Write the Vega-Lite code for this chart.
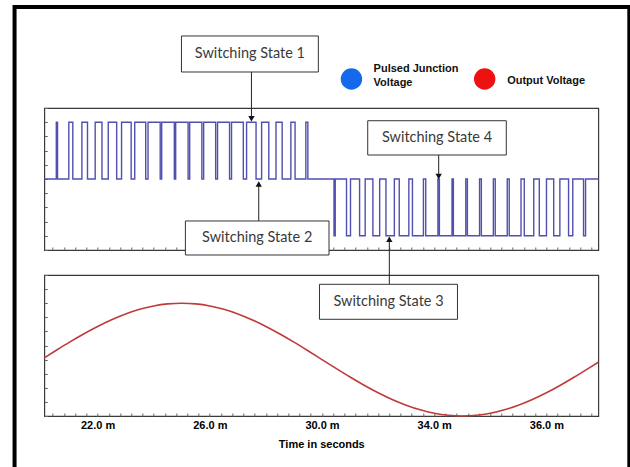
{
  "$schema": "https://vega.github.io/schema/vega-lite/v6.json",
  "autosize": {"type": "pad"},
  "padding": {"left": 11.3, "top": 4, "right": 0, "bottom": 0},
  "background": "white",
  "bounds": "flush",
  "spacing": 25,
  "config": {
    "view": {"stroke": "#3a3a3a", "strokeWidth": 1.2},
    "axis": {"grid": false, "domain": false, "tickColor": "#666", "tickWidth": 1}
  },
  "datasets": {
    "pulses": [
      {"t": 20.1, "v": 0},
      {"t": 20.528, "v": 1}, {"t": 20.572, "v": 0},
      {"t": 20.974, "v": 1}, {"t": 21.116, "v": 0},
      {"t": 21.44, "v": 1}, {"t": 21.64, "v": 0},
      {"t": 21.914, "v": 1}, {"t": 22.156, "v": 0},
      {"t": 22.38, "v": 1}, {"t": 22.68, "v": 0},
      {"t": 22.854, "v": 1}, {"t": 23.196, "v": 0},
      {"t": 23.324, "v": 1}, {"t": 23.716, "v": 0},
      {"t": 23.798, "v": 1}, {"t": 24.232, "v": 0},
      {"t": 24.285, "v": 1}, {"t": 24.735, "v": 0},
      {"t": 24.784, "v": 1}, {"t": 25.226, "v": 0},
      {"t": 25.283, "v": 1}, {"t": 25.717, "v": 0},
      {"t": 25.781, "v": 1}, {"t": 26.209, "v": 0},
      {"t": 26.276, "v": 1}, {"t": 26.704, "v": 0},
      {"t": 26.775, "v": 1}, {"t": 27.195, "v": 0},
      {"t": 27.311, "v": 1}, {"t": 27.649, "v": 0},
      {"t": 27.847, "v": 1}, {"t": 28.103, "v": 0},
      {"t": 28.36, "v": 1}, {"t": 28.58, "v": 0},
      {"t": 28.89, "v": 1}, {"t": 29.04, "v": 0},
      {"t": 29.424, "v": 1}, {"t": 29.496, "v": 0},
      {"t": 30.428, "v": -1}, {"t": 30.472, "v": 0},
      {"t": 30.874, "v": -1}, {"t": 31.016, "v": 0},
      {"t": 31.34, "v": -1}, {"t": 31.54, "v": 0},
      {"t": 31.814, "v": -1}, {"t": 32.056, "v": 0},
      {"t": 32.28, "v": -1}, {"t": 32.58, "v": 0},
      {"t": 32.754, "v": -1}, {"t": 33.096, "v": 0},
      {"t": 33.224, "v": -1}, {"t": 33.616, "v": 0},
      {"t": 33.698, "v": -1}, {"t": 34.132, "v": 0},
      {"t": 34.185, "v": -1}, {"t": 34.635, "v": 0},
      {"t": 34.684, "v": -1}, {"t": 35.126, "v": 0},
      {"t": 35.183, "v": -1}, {"t": 35.617, "v": 0},
      {"t": 35.681, "v": -1}, {"t": 36.109, "v": 0},
      {"t": 36.176, "v": -1}, {"t": 36.604, "v": 0},
      {"t": 36.675, "v": -1}, {"t": 37.095, "v": 0},
      {"t": 37.211, "v": -1}, {"t": 37.549, "v": 0},
      {"t": 37.747, "v": -1}, {"t": 38.003, "v": 0},
      {"t": 38.26, "v": -1}, {"t": 38.48, "v": 0},
      {"t": 38.79, "v": -1}, {"t": 38.94, "v": 0},
      {"t": 39.324, "v": -1}, {"t": 39.396, "v": 0},
      {"t": 39.85, "v": 0}
    ],
    "sine": [
      {"t": 20.1, "v": 0.0314}, {"t": 20.5, "v": 0.1564}, {"t": 21, "v": 0.309}, {"t": 21.5, "v": 0.454},
      {"t": 22, "v": 0.5878}, {"t": 22.5, "v": 0.7071}, {"t": 23, "v": 0.809}, {"t": 23.5, "v": 0.891},
      {"t": 24, "v": 0.9511}, {"t": 24.5, "v": 0.9877}, {"t": 25, "v": 1}, {"t": 25.5, "v": 0.9877},
      {"t": 26, "v": 0.9511}, {"t": 26.5, "v": 0.891}, {"t": 27, "v": 0.809}, {"t": 27.5, "v": 0.7071},
      {"t": 28, "v": 0.5878}, {"t": 28.5, "v": 0.454}, {"t": 29, "v": 0.309}, {"t": 29.5, "v": 0.1564},
      {"t": 30, "v": 0}, {"t": 30.5, "v": -0.1564}, {"t": 31, "v": -0.309}, {"t": 31.5, "v": -0.454},
      {"t": 32, "v": -0.5878}, {"t": 32.5, "v": -0.7071}, {"t": 33, "v": -0.809}, {"t": 33.5, "v": -0.891},
      {"t": 34, "v": -0.9511}, {"t": 34.5, "v": -0.9877}, {"t": 35, "v": -1}, {"t": 35.5, "v": -0.9877},
      {"t": 36, "v": -0.9511}, {"t": 36.5, "v": -0.891}, {"t": 37, "v": -0.809}, {"t": 37.5, "v": -0.7071},
      {"t": 38, "v": -0.5878}, {"t": 38.5, "v": -0.454}, {"t": 39, "v": -0.309}, {"t": 39.5, "v": -0.1564},
      {"t": 39.85, "v": -0.0471}
    ],
    "frame": [{"t": 19.04, "t2": 40.956, "v": 3.028, "v2": -5.3}],
    "boxesTop": [
      {"t": 24.99, "t2": 29.87, "v": 2.518, "v2": 1.884},
      {"t": 25.13, "t2": 30.25, "v": -0.739, "v2": -1.338},
      {"t": 31.63, "t2": 36.57, "v": 1.026, "v2": 0.4225}
    ],
    "labelsTop": [
      {"label": "Switching State 1", "t": 27.43, "v": 2.201},
      {"label": "Switching State 2", "t": 27.69, "v": -1.038},
      {"label": "Switching State 4", "t": 34.1, "v": 0.724}
    ],
    "arrowsTop": [
      {"t": 27.485, "v": 1.884, "v2": 1.1},
      {"t": 27.745, "v": -0.739, "v2": -0.12},
      {"t": 34.16, "v": 0.4225, "v2": 0.07}
    ],
    "headsDownTop": [{"t": 27.485, "v": 1.06}, {"t": 34.16, "v": 0.045}],
    "headsUpTop": [{"t": 27.745, "v": -0.09}],
    "legendBlue": [{"t": 31.05, "v": 1.76}],
    "legendRed": [{"t": 35.8, "v": 1.76}],
    "legendText": [
      {"label": "Pulsed Junction", "t": 31.84, "v": 1.93},
      {"label": "Voltage", "t": 31.84, "v": 1.685},
      {"label": "Output Voltage", "t": 36.6, "v": 1.725}
    ],
    "boxBottom": [{"t": 29.91, "t2": 34.83, "v": 1.335, "v2": 0.7145}],
    "labelBottom": [{"label": "Switching State 3", "t": 32.37, "v": 1.025}],
    "arrowBottom": [{"t": 32.4, "v": 1.335, "v2": 2.1}],
    "headUpBottom": [{"t": 32.4, "v": 2.135}]
  },
  "vconcat": [
    {
      "width": 554,
      "height": 142,
      "encoding": {
        "x": {
          "field": "t", "type": "quantitative",
          "scale": {"domain": [20.1, 39.85], "nice": false, "zero": false},
          "axis": {
            "title": null, "labels": false, "tickSize": -3,
            "values": [20.4, 20.8, 21.2, 21.6, 22, 22.4, 22.8, 23.2, 23.6, 24, 24.4, 24.8, 25.2, 25.6, 26, 26.4, 26.8, 27.2, 27.6, 28, 28.4, 28.8, 29.2, 29.6, 30, 30.4, 30.8, 31.2, 31.6, 32, 32.4, 32.8, 33.2, 33.6, 34, 34.4, 34.8, 35.2, 35.6, 36, 36.4, 36.8, 37.2, 37.6, 38, 38.4, 38.8, 39.2, 39.6]
          }
        },
        "y": {
          "field": "v", "type": "quantitative",
          "scale": {"domain": [-1.25, 1.25], "nice": false, "zero": false},
          "axis": {
            "title": null, "labels": false, "tickSize": -3,
            "values": [-1.25, -1, -0.75, -0.5, -0.25, 0, 0.25, 0.5, 0.75, 1, 1.25]
          }
        }
      },
      "layer": [
        {
          "data": {"name": "frame"},
          "mark": {"type": "rect", "fill": null, "fillOpacity": 0, "stroke": "#000", "strokeWidth": 4},
          "encoding": {"x2": {"field": "t2"}, "y2": {"field": "v2"}}
        },
        {
          "data": {"name": "pulses"},
          "mark": {"type": "line", "interpolate": "step-after", "color": "#5050b0", "strokeWidth": 1.4},
          "encoding": {}
        },
        {
          "data": {"name": "arrowsTop"},
          "mark": {"type": "rule", "color": "#222", "strokeWidth": 1},
          "encoding": {"y2": {"field": "v2"}}
        },
        {
          "data": {"name": "headsDownTop"},
          "mark": {"type": "point", "shape": "triangle-down", "filled": true, "color": "#111", "size": 40, "opacity": 1},
          "encoding": {}
        },
        {
          "data": {"name": "headsUpTop"},
          "mark": {"type": "point", "shape": "triangle-up", "filled": true, "color": "#111", "size": 40, "opacity": 1},
          "encoding": {}
        },
        {
          "data": {"name": "boxesTop"},
          "mark": {"type": "rect", "fill": "white", "stroke": "#333", "strokeWidth": 1},
          "encoding": {"x2": {"field": "t2"}, "y2": {"field": "v2"}}
        },
        {
          "data": {"name": "labelsTop"},
          "mark": {"type": "text", "font": "Lato", "fontSize": 14.5, "color": "#3a3a3a", "align": "center", "baseline": "middle"},
          "encoding": {"text": {"field": "label"}}
        },
        {
          "data": {"name": "legendBlue"},
          "mark": {"type": "point", "shape": "circle", "filled": true, "color": "#1469ec", "size": 460, "opacity": 1},
          "encoding": {}
        },
        {
          "data": {"name": "legendRed"},
          "mark": {"type": "point", "shape": "circle", "filled": true, "color": "#ee1111", "size": 460, "opacity": 1},
          "encoding": {}
        },
        {
          "data": {"name": "legendText"},
          "mark": {"type": "text", "font": "Liberation Sans", "fontWeight": "bold", "fontSize": 11, "color": "#111", "align": "left", "baseline": "middle"},
          "encoding": {"text": {"field": "label"}}
        }
      ]
    },
    {
      "width": 554,
      "height": 141,
      "encoding": {
        "x": {
          "field": "t", "type": "quantitative",
          "scale": {"domain": [20.1, 39.85], "nice": false, "zero": false},
          "axis": {
            "title": "Time in seconds", "tickSize": -3,
            "values": [20.4, 20.8, 21.2, 21.6, 22, 22.4, 22.8, 23.2, 23.6, 24, 24.4, 24.8, 25.2, 25.6, 26, 26.4, 26.8, 27.2, 27.6, 28, 28.4, 28.8, 29.2, 29.6, 30, 30.4, 30.8, 31.2, 31.6, 32, 32.4, 32.8, 33.2, 33.6, 34, 34.4, 34.8, 35.2, 35.6, 36, 36.4, 36.8, 37.2, 37.6, 38, 38.4, 38.8, 39.2, 39.6],
            "labelExpr": "indexof([22, 26, 30, 34], datum.value) >= 0 ? format(datum.value, '.1f') + ' m' : (datum.value == 38 ? '36.0 m' : '')",
            "labelOverlap": false, "labelFlush": false,
            "labelFont": "Liberation Sans", "labelFontWeight": "bold", "labelFontSize": 11, "labelColor": "#000",
            "labelPadding": 7,
            "titleFont": "Liberation Sans", "titleFontWeight": "bold", "titleFontSize": 11, "titleColor": "#000",
            "titlePadding": 8
          }
        },
        "y": {
          "field": "v", "type": "quantitative",
          "scale": {"domain": [-1, 1.5], "nice": false, "zero": false},
          "axis": {
            "title": null, "labels": false, "tickSize": -3,
            "values": [-1, -0.75, -0.5, -0.25, 0, 0.25, 0.5, 0.75, 1, 1.25, 1.5]
          }
        }
      },
      "layer": [
        {
          "data": {"name": "sine"},
          "mark": {"type": "line", "interpolate": "monotone", "color": "#c03a3a", "strokeWidth": 1.6},
          "encoding": {}
        },
        {
          "data": {"name": "arrowBottom"},
          "mark": {"type": "rule", "color": "#222", "strokeWidth": 1},
          "encoding": {"y2": {"field": "v2"}}
        },
        {
          "data": {"name": "headUpBottom"},
          "mark": {"type": "point", "shape": "triangle-up", "filled": true, "color": "#111", "size": 40, "opacity": 1},
          "encoding": {}
        },
        {
          "data": {"name": "boxBottom"},
          "mark": {"type": "rect", "fill": "white", "stroke": "#333", "strokeWidth": 1},
          "encoding": {"x2": {"field": "t2"}, "y2": {"field": "v2"}}
        },
        {
          "data": {"name": "labelBottom"},
          "mark": {"type": "text", "font": "Lato", "fontSize": 14.5, "color": "#3a3a3a", "align": "center", "baseline": "middle"},
          "encoding": {"text": {"field": "label"}}
        }
      ]
    }
  ]
}
